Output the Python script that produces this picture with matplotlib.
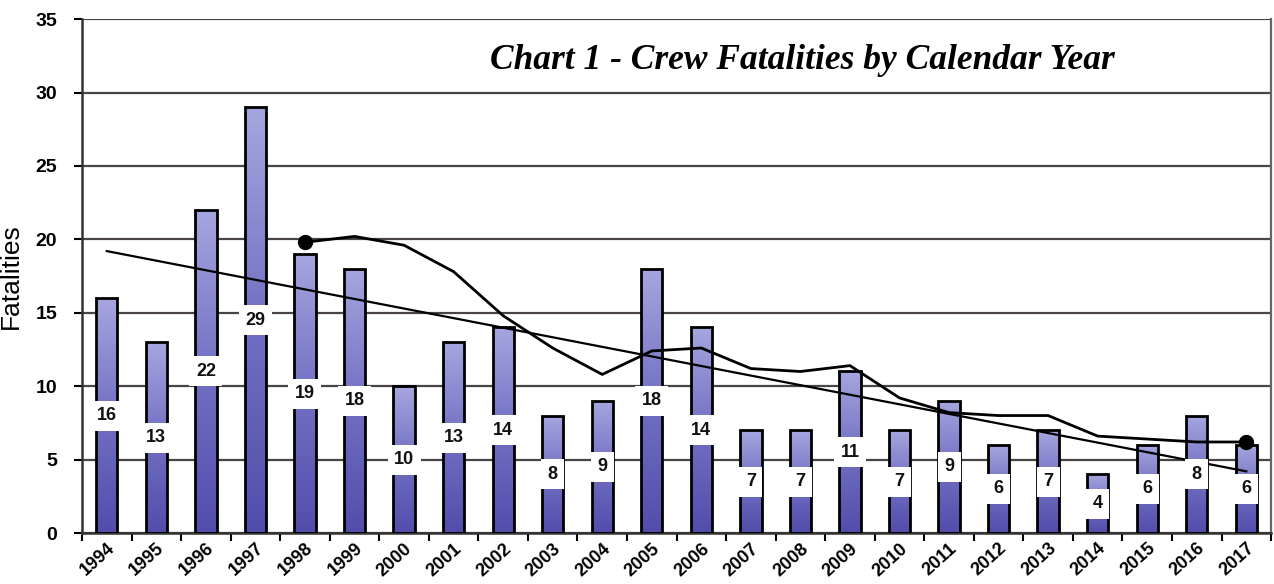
import matplotlib
matplotlib.use('Agg')
import matplotlib.pyplot as plt
import numpy as np

# Crew fatalities per calendar year
years = ['1994', '1995', '1996', '1997', '1998', '1999', '2000', '2001',
         '2002', '2003', '2004', '2005', '2006', '2007', '2008', '2009',
         '2010', '2011', '2012', '2013', '2014', '2015', '2016', '2017']
fatalities = [16, 13, 22, 29, 19, 18, 10, 13, 14, 8, 9, 18, 14, 7, 7, 11,
              7, 9, 6, 7, 4, 6, 8, 6]

# 5-year moving average, 1998 onwards
avg_years = years[4:]
moving_avg = [19.8, 20.2, 19.6, 17.8, 14.8, 12.6, 10.8, 12.4, 12.6, 11.2,
              11.0, 11.4, 9.2, 8.2, 8.0, 8.0, 6.6, 6.4, 6.2, 6.2]

# linear trend, first and last year
trend_years = [years[0], years[-1]]
trend_values = [19.2, 4.2]

fig = plt.figure(figsize=(12.74, 5.84), dpi=100)
ax = fig.add_axes([0.0644, 0.0873, 0.9333, 0.880])

x = np.arange(len(years))
bar_w = 0.43
grad = np.linspace(0, 1, 256).reshape(-1, 1)
cmap = matplotlib.colors.LinearSegmentedColormap.from_list(
    'bar', ['#524dab', '#7270c3', '#a6a6df'])

bars = ax.bar(x, fatalities, width=bar_w, color='none', edgecolor='black',
              linewidth=2.0, zorder=3)
for b in bars:
    x0, y0 = b.get_x(), b.get_y()
    w, h = b.get_width(), b.get_height()
    im = ax.imshow(grad, extent=[x0, x0 + w, y0, y0 + h], origin='lower',
                   cmap=cmap, aspect='auto', zorder=2.5)
    im.set_clip_path(b)

# value labels in white boxes at mid height
for xi, v in zip(x, fatalities):
    ax.text(xi, v / 2.0, str(v), ha='center', va='center', fontsize=13,
            fontweight='bold', family='Liberation Sans', color='#111111',
            zorder=6,
            bbox=dict(boxstyle='square,pad=0.36', fc='white', ec='none'))

# trend line
tx = [years.index(y) for y in trend_years]
ax.plot(tx, trend_values, color='black', lw=1.6, zorder=4)

# moving average with end markers
mx = [years.index(y) for y in avg_years]
ax.plot(mx, moving_avg, color='black', lw=2.0, zorder=5,
        solid_joinstyle='round')
ax.plot([mx[0], mx[-1]], [moving_avg[0], moving_avg[-1]], 'o',
        color='black', ms=10, zorder=7)

ax.set_xlim(-0.5, len(years) - 0.5)
ax.set_ylim(0, 35)
ax.set_yticks(range(0, 36, 5))
ax.yaxis.grid(True, color='#4a4444', lw=1.6, zorder=1)
ax.set_axisbelow(True)

ax.set_xticks(x)
ax.set_xticks(np.arange(-0.5, len(years), 1), minor=True)
ax.tick_params(axis='x', which='major', length=0, pad=5)
ax.tick_params(axis='x', which='minor', length=6, width=1.5, direction='out')
ax.tick_params(axis='y', length=6, width=1.5, direction='out', pad=12)
ax.set_xticklabels(years, rotation=42, ha='right', va='top',
                   rotation_mode='anchor', fontsize=13, fontweight='bold',
                   family='Liberation Sans')
for lbl in ax.get_yticklabels():
    lbl.set_fontsize(14)
    lbl.set_fontweight('bold')
    lbl.set_family('Liberation Sans')

for side in ['left', 'bottom']:
    ax.spines[side].set_linewidth(1.8)
    ax.spines[side].set_color('#333333')
ax.spines['top'].set_visible(False)
ax.spines['right'].set_color('#6a6464')
ax.spines['right'].set_linewidth(1.6)

ax.set_ylabel('Fatalities', fontsize=19, family='Liberation Sans')
ax.yaxis.set_label_coords(-0.05, 0.5)

ax.text(0.606, 0.92, 'Chart 1 - Crew Fatalities by Calendar Year',
        transform=ax.transAxes, ha='center', va='center', fontsize=25.5,
        fontweight='bold', fontstyle='italic', family='Liberation Serif',
        zorder=8)

fig.savefig('out.png', dpi=100, facecolor='white')
